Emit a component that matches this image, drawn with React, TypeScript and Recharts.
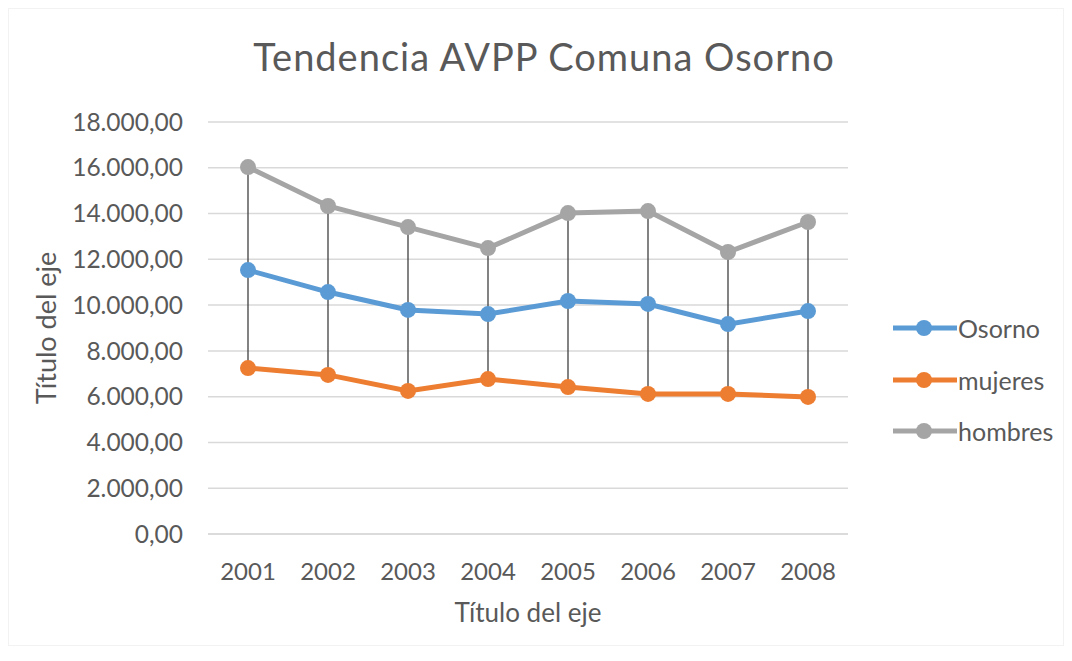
import React from 'react';
import { ComposedChart, Line, Bar, XAxis, YAxis, CartesianGrid } from 'recharts';

// values
const years = ['2001', '2002', '2003', '2004', '2005', '2006', '2007', '2008'];
const osorno = [11530, 10570, 9790, 9610, 10180, 10050, 9170, 9740];
const mujeres = [7250, 6950, 6250, 6770, 6420, 6120, 6120, 5990];
const hombres = [16030, 14330, 13410, 12490, 14020, 14110, 12320, 13630];
const yTicks = [0, 2000, 4000, 6000, 8000, 10000, 12000, 14000, 16000, 18000];

const series = [
    { key: 'osorno', name: 'Osorno', color: '#5B9BD5' },
    { key: 'mujeres', name: 'mujeres', color: '#ED7D31' },
    { key: 'hombres', name: 'hombres', color: '#A5A5A5' },
];

const data = years.map((year, i) => ({
    year,
    osorno: osorno[i],
    mujeres: mujeres[i],
    hombres: hombres[i],
    hiLo: [mujeres[i], hombres[i]],
}));

const FONT = 'Lato, "Open Sans", sans-serif';
const TEXT = '#595959';

// es-CL style: 18.000,00
const fmt = (v: number) => {
    const int = Math.round(v).toString().replace(/\B(?=(\d{3})+(?!\d))/g, '.');
    return `${int},00`;
};

// thin vertical line from low to high, like Excel high-low lines
const HiLoLine = (props: any) => {
    const { x, y, width, height } = props;
    if (x == null || y == null) return null;
    const cx = x + width / 2;
    return <line x1={cx} x2={cx} y1={y} y2={y + height} stroke="#404040" strokeWidth={1.3} />;
};

export default function App() {
    return (
        <div style={{ position: 'absolute', left: 0, top: 0, width: 1072, height: 661, background: '#fff', fontFamily: FONT }}>
            <div style={{ position: 'absolute', left: 8, top: 8, width: 1054, height: 636, border: '1px solid #f2f2f2' }} />
            <div style={{ position: 'absolute', left: 0, top: 33, width: 1088, textAlign: 'center', fontSize: 38, color: TEXT, letterSpacing: 1 }}>
                Tendencia AVPP Comuna Osorno
            </div>
            <ComposedChart
                width={1072}
                height={661}
                data={data}
                margin={{ top: 122, right: 224, bottom: 27, left: 0 }}
                style={{ position: 'absolute', left: 0, top: 0 }}
            >
                <CartesianGrid vertical={false} stroke="#d9d9d9" strokeWidth={1.5} />
                <XAxis
                    dataKey="year"
                    axisLine={{ stroke: '#d9d9d9', strokeWidth: 1.5 }}
                    tickLine={false}
                    tickSize={0}
                    tickMargin={29}
                    height={100}
                    tick={{ fill: TEXT, fontSize: 24, fontFamily: FONT }}
                    label={{ value: 'Título del eje', position: 'insideTop', offset: 70, fill: TEXT, fontSize: 26, fontFamily: FONT }}
                />
                <YAxis
                    domain={[0, 18000]}
                    ticks={yTicks}
                    interval={0}
                    width={208}
                    axisLine={false}
                    tickLine={false}
                    tickSize={0}
                    tickMargin={25}
                    tickFormatter={fmt}
                    tick={{ fill: TEXT, fontSize: 24.5, fontFamily: FONT }}
                    label={{ value: 'Título del eje', angle: -90, position: 'insideLeft', offset: 46, fill: TEXT, fontSize: 27, fontFamily: FONT, style: { textAnchor: 'middle' } }}
                />
                {series.map((s) => (
                    <Line
                        key={s.key}
                        dataKey={s.key}
                        name={s.name}
                        stroke={s.color}
                        strokeWidth={5}
                        dot={{ r: 8, fill: s.color, stroke: s.color, strokeWidth: 0 }}
                        activeDot={false}
                        isAnimationActive={false}
                    />
                ))}
                <Bar dataKey="hiLo" barSize={10} shape={<HiLoLine />} isAnimationActive={false} />
            </ComposedChart>
            <div style={{ position: 'absolute', left: 893, top: 311 }}>
                {series.map((s, i) => (
                    <div key={s.key} style={{ display: 'flex', alignItems: 'center', height: 34, marginBottom: i < 2 ? 17.5 : 0 }}>
                        <svg width={64} height={20}>
                            <line x1={0} x2={64} y1={10} y2={10} stroke={s.color} strokeWidth={5} />
                            <circle cx={31} cy={10} r={8} fill={s.color} />
                        </svg>
                        <span style={{ fontSize: 25, color: TEXT, marginLeft: 1 }}>{s.name}</span>
                    </div>
                ))}
            </div>
        </div>
    );
}
